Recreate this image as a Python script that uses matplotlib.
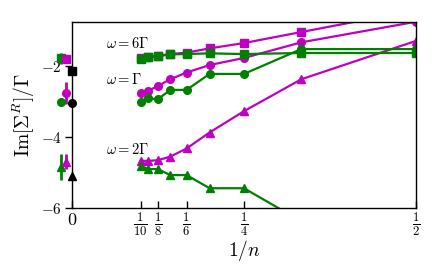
import numpy as np
import matplotlib
matplotlib.use("Agg")
import matplotlib.pyplot as plt

plt.rcParams['mathtext.fontset'] = 'cm'
plt.rcParams['font.family'] = ['DejaVu Serif']

# data
n_vals = [10, 9, 8, 7, 6, 5, 4, 3, 2]
inv_n = [1.0 / n for n in n_vals]

mag_sq = [-1.79, -1.76, -1.72, -1.67, -1.63, -1.51, -1.36, -1.05, -0.43]
grn_sq = [-1.81, -1.75, -1.73, -1.68, -1.67, -1.65, -1.67, -1.64, -1.64]
mag_ci = [-2.78, -2.70, -2.57, -2.38, -2.19, -1.98, -1.78, -1.34, -0.76]
grn_ci = [-3.01, -2.92, -2.94, -2.68, -2.68, -2.23, -2.23, -1.53, -1.53]
mag_tr = [-4.68, -4.68, -4.66, -4.56, -4.33, -3.88, -3.28, -2.38, -1.30]
grn_tr = [-4.83, -4.91, -4.91, -5.08, -5.08, -5.45, -5.45, -6.38, -7.50]

# extrapolated values (x < 0) with error bars
x_grn_ext = -0.016
x_mag_ext = -0.008
grn_ext = [-1.79, -3.01, -4.85]
grn_err = [0.16, 0.11, 0.37]
mag_ext = [-1.82, -2.78, -4.70]
mag_err = [0.05, 0.31, 0.21]
blk_ext = [-2.14, -3.06, -5.11]

markers = ['s', 'o', '^']

xticks = [0, 1/10, 1/8, 1/6, 1/4, 1/2]
xticklabels = ['$0$', r'$\frac{1}{10}$', r'$\frac{1}{8}$', r'$\frac{1}{6}$',
               r'$\frac{1}{4}$', r'$\frac{1}{2}$']
yticks = [-6, -4, -2]
yticklabels = ['$-6$', '$-4$', '$-2$']

MAG = '#c000c0'
GRN = '#008000'

fig = plt.figure(figsize=(4.36, 2.73), dpi=100)
ax = fig.add_axes([0.165, 0.239, 0.789, 0.68])

lw = 1.6
ms = 5.5
for ys, m in zip([mag_sq, mag_ci, mag_tr], markers):
    ax.plot(inv_n, ys, color=MAG, marker=m, ms=ms, lw=lw)
for ys, m in zip([grn_sq, grn_ci, grn_tr], markers):
    ax.plot(inv_n, ys, color=GRN, marker=m, ms=ms, lw=lw)

for i, m in enumerate(markers):
    ax.errorbar([x_grn_ext], [grn_ext[i]], yerr=[grn_err[i]], color=GRN,
                marker=m, ms=ms, lw=lw, elinewidth=2, capsize=0, clip_on=False)
    ax.errorbar([x_mag_ext], [mag_ext[i]], yerr=[mag_err[i]], color=MAG,
                marker=m, ms=ms, lw=lw, elinewidth=2, capsize=0, clip_on=False)
    ax.plot([0], [blk_ext[i]], color='black', marker=m, ms=ms, clip_on=False,
            zorder=5)

ax.set_xlim(0, 0.5)
ax.set_ylim(-6, -0.77)
ax.set_xticks(xticks)
ax.set_xticklabels(xticklabels, fontsize=13)
ax.set_yticks(yticks)
ax.set_yticklabels(yticklabels, fontsize=11)
ax.tick_params(axis='x', direction='in', length=5, width=1, pad=2)
ax.tick_params(axis='y', direction='out', length=5, width=1, pad=2)

ax.set_xlabel('$1/n$', fontsize=14, labelpad=0)
ax.set_ylabel(r'$\mathrm{Im}[\Sigma^R]/\Gamma$', fontsize=14, labelpad=3)

ax.text(0.049, -1.37, r'$\omega=6\Gamma$', fontsize=10.5, va='center', ha='left')
ax.text(0.049, -2.40, r'$\omega=\Gamma$', fontsize=10.5, va='center', ha='left')
ax.text(0.049, -4.37, r'$\omega=2\Gamma$', fontsize=10.5, va='center', ha='left')

for s in ax.spines.values():
    s.set_linewidth(1.0)

fig.savefig('out.png', dpi=100)
